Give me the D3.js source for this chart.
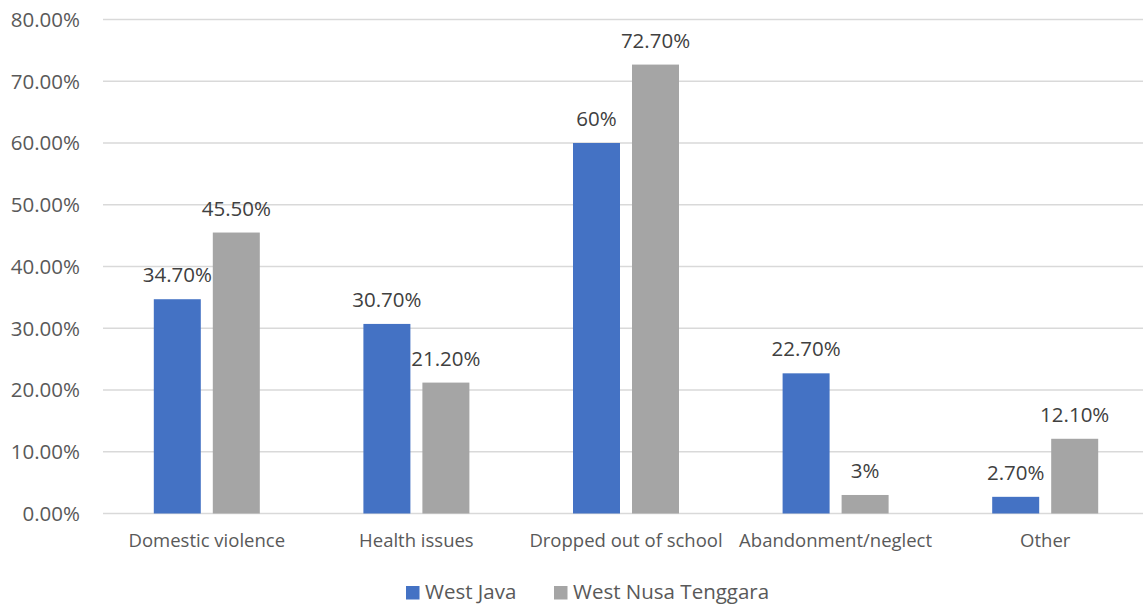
<!DOCTYPE html>
<html>
<head>
<meta charset="utf-8">
<script src="https://cdn.jsdelivr.net/npm/d3@7"></script>
<style>
  body { margin: 0; background: #fff; }
  svg text { font-family: "Open Sans", "Noto Sans", sans-serif; fill: #595959; }
</style>
</head>
<body>
<svg id="chart" width="1143" height="604"></svg>
<script>
// chart data
const categories = ["Domestic violence", "Health issues", "Dropped out of school", "Abandonment/neglect", "Other"];
const seriesNames = ["West Java", "West Nusa Tenggara"];
const westJava = [34.7, 30.7, 60, 22.7, 2.7];
const westNusaTenggara = [45.5, 21.2, 72.7, 3, 12.1];
const yTicks = [0, 10, 20, 30, 40, 50, 60, 70, 80];
const colors = ["#4472C4", "#A5A5A5"];

const svg = d3.select("#chart");

const x0 = d3.scaleBand()
    .domain(categories)
    .range([102, 1150])
    .padding(0);

const x1 = d3.scaleBand()
    .domain(seriesNames)
    .range([(x0.bandwidth() - 106) / 2, (x0.bandwidth() + 106) / 2])
    .paddingInner(12 / 59)
    .paddingOuter(0);

const y = d3.scaleLinear()
    .domain([0, 80])
    .range([513.5, 19.5]);

// gridlines + y labels
const grid = svg.append("g");
yTicks.forEach(t => {
    grid.append("line")
        .attr("x1", 103).attr("x2", 1143)
        .attr("y1", y(t)).attr("y2", y(t))
        .attr("stroke", "#d9d9d9")
        .attr("stroke-width", 1.3);
    grid.append("text")
        .attr("x", 80)
        .attr("y", y(t))
        .attr("dy", "0.36em")
        .attr("text-anchor", "end")
        .style("font-size", "20.5px")
        .text(t.toFixed(2) + "%");
});

const fmtLabel = v => Number.isInteger(v) ? v + "%" : v.toFixed(2) + "%";

const rows = categories.map((c, i) => ({
    cat: c,
    vals: [westJava[i], westNusaTenggara[i]]
}));

const groups = svg.append("g").selectAll("g")
    .data(rows)
    .join("g")
    .attr("transform", d => `translate(${x0(d.cat)},0)`);

groups.selectAll("rect")
    .data(d => d.vals.map((v, k) => ({ name: seriesNames[k], v, k })))
    .join("rect")
    .attr("x", d => x1(d.name))
    .attr("width", x1.bandwidth())
    .attr("y", d => y(d.v))
    .attr("height", d => y(0) - y(d.v))
    .attr("fill", d => colors[d.k]);

groups.selectAll("text.val")
    .data(d => d.vals.map((v, k) => ({ name: seriesNames[k], v, k })))
    .join("text")
    .attr("class", "val")
    .attr("x", d => x1(d.name) + x1.bandwidth() / 2)
    .attr("y", d => y(d.v) - 17)
    .attr("text-anchor", "middle")
    .style("font-size", "20.5px")
    .style("fill", "#404040")
    .text(d => fmtLabel(d.v));

// category labels
svg.append("g").selectAll("text")
    .data(categories)
    .join("text")
    .attr("x", d => x0(d) + x0.bandwidth() / 2)
    .attr("y", 547)
    .attr("text-anchor", "middle")
    .style("font-size", "18.5px")
    .text(d => d);

// legend
const legendX = [406, 554];
const legend = svg.append("g");
seriesNames.forEach((s, k) => {
    legend.append("rect")
        .attr("x", legendX[k]).attr("y", 586)
        .attr("width", 13.5).attr("height", 13.5)
        .attr("fill", colors[k]);
    legend.append("text")
        .attr("x", legendX[k] + 19)
        .attr("y", 599)
        .style("font-size", "20.5px")
        .text(s);
});
</script>
</body>
</html>
